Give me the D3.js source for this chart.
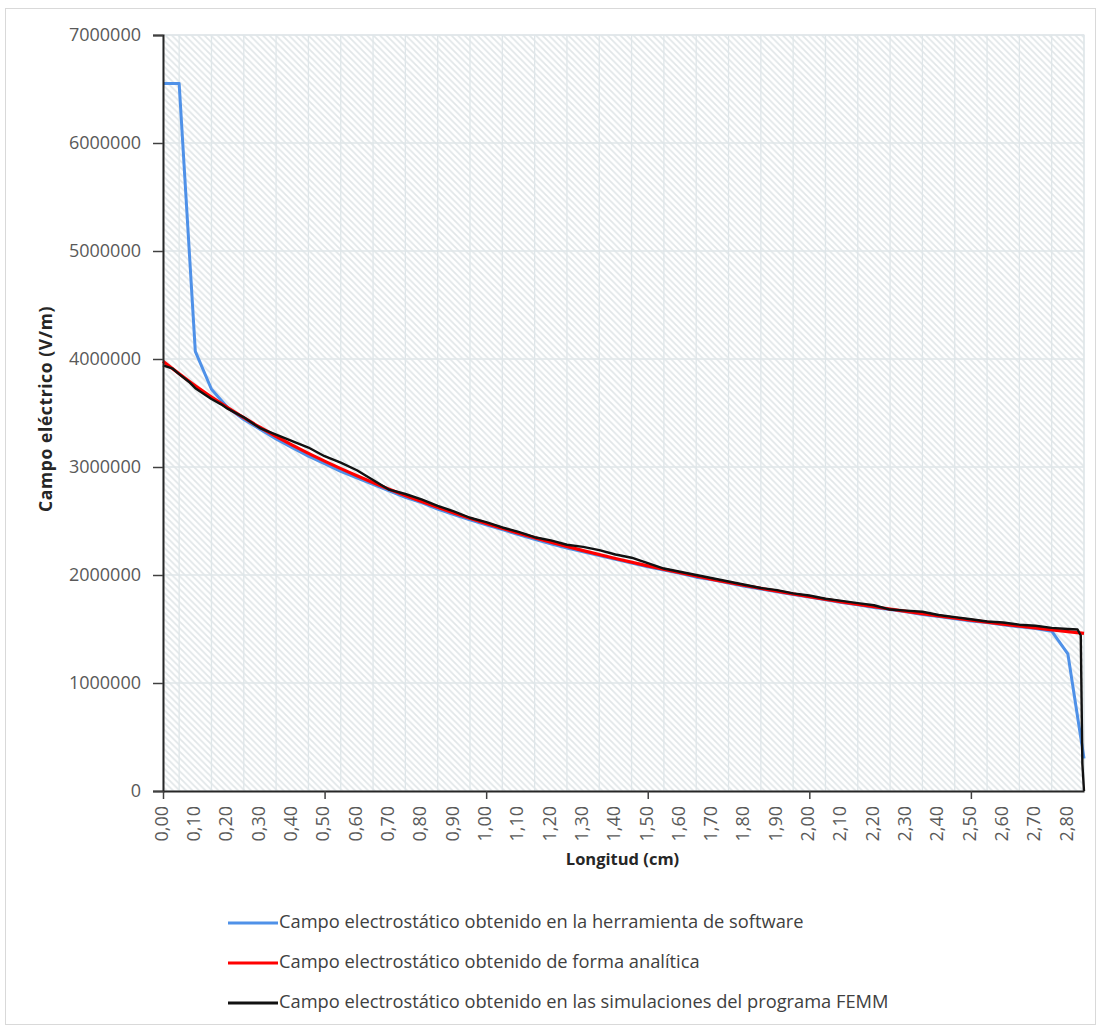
<!DOCTYPE html>
<html>
<head>
<meta charset="utf-8">
<script src="https://cdn.jsdelivr.net/npm/d3@7"></script>
<style>
  body { margin: 0; background: #fff; }
  svg { display: block; }
  text { font-family: "Open Sans", "Noto Sans", sans-serif; }
</style>
</head>
<body>
<svg id="chart" width="1099" height="1028"></svg>
<script>
// Longitud (cm) and campo eléctrico (V/m) for the three series

// Herramienta de software, sampled every 0.05 cm
const softwareX = [0.00,0.05,0.10,0.15,0.20,0.25,0.30,0.35,0.40,0.45,0.50,0.55,0.60,0.65,0.70,0.75,0.80,0.85,0.90,0.95,
  1.00,1.05,1.10,1.15,1.20,1.25,1.30,1.35,1.40,1.45,1.50,1.55,1.60,1.65,1.70,1.75,1.80,1.85,1.90,1.95,
  2.00,2.05,2.10,2.15,2.20,2.25,2.30,2.35,2.40,2.45,2.50,2.55,2.60,2.65,2.70,2.75,2.80,2.85];
const softwareE = [6550000,6550000,4070000,3720000,3550000,3440000,3350000,3260000,3180000,3100000,3030000,2960000,2900000,2840000,2780000,2720000,2670000,2610000,2560000,2510000,
  2465000,2420000,2375000,2330000,2290000,2250000,2215000,2180000,2145000,2110000,2075000,2045000,2015000,1980000,1955000,1925000,1895000,1870000,1845000,1820000,
  1795000,1770000,1745000,1725000,1700000,1680000,1660000,1635000,1615000,1595000,1575000,1560000,1540000,1520000,1505000,1480000,1270000,300000];

// Forma analítica
const analyticX = [0.00,0.10,0.20,0.30,0.40,0.50,0.60,0.70,0.80,0.90,1.00,1.10,1.20,1.30,1.40,1.50,1.60,1.70,1.80,1.90,
  2.00,2.10,2.20,2.30,2.40,2.50,2.60,2.70,2.80,2.85];
const analyticE = [3980000,3753000,3550000,3368000,3203000,3054000,2919000,2794000,2680000,2575000,2478000,2388000,2304000,2226000,2153000,2085000,2021000,1960000,1903000,1850000,
  1799000,1751000,1706000,1663000,1621000,1582000,1545000,1510000,1476000,1459000];

// Simulaciones FEMM
const femmX = [0.00,0.03,0.05,0.08,0.10,0.13,0.15,0.18,0.20,0.25,0.30,0.35,0.40,0.45,0.50,0.55,0.60,0.65,0.70,0.75,0.80,0.85,0.90,0.95,
  1.00,1.05,1.10,1.15,1.20,1.25,1.30,1.35,1.40,1.45,1.50,1.55,1.60,1.65,1.70,1.75,1.80,1.85,1.90,1.95,
  2.00,2.05,2.10,2.15,2.20,2.25,2.30,2.35,2.40,2.45,2.50,2.55,2.60,2.65,2.70,2.75,2.80,2.83,2.84,2.845,2.85];
const femmE = [3940000,3910000,3860000,3790000,3730000,3670000,3630000,3580000,3540000,3460000,3360000,3300000,3240000,3180000,3100000,3040000,2970000,2880000,2790000,2750000,2700000,2640000,2590000,2530000,
  2490000,2440000,2400000,2350000,2320000,2280000,2260000,2230000,2190000,2160000,2110000,2060000,2030000,2000000,1970000,1940000,1910000,1880000,1860000,1830000,
  1810000,1780000,1760000,1740000,1720000,1680000,1670000,1660000,1630000,1610000,1590000,1570000,1560000,1540000,1530000,1510000,1500000,1495000,1440000,250000,0];

const yTickValues = [0,1000000,2000000,3000000,4000000,5000000,6000000,7000000];
const yTickLabels = ["0","1000000","2000000","3000000","4000000","5000000","6000000","7000000"];
const xTickValues = [0.0,0.1,0.2,0.3,0.4,0.5,0.6,0.7,0.8,0.9,1.0,1.1,1.2,1.3,1.4,1.5,1.6,1.7,1.8,1.9,2.0,2.1,2.2,2.3,2.4,2.5,2.6,2.7,2.8];
const xTickLabels = ["0,00","0,10","0,20","0,30","0,40","0,50","0,60","0,70","0,80","0,90","1,00","1,10","1,20","1,30","1,40","1,50","1,60","1,70","1,80","1,90","2,00","2,10","2,20","2,30","2,40","2,50","2,60","2,70","2,80"];
const xMajorTicks = [0.0,0.5,1.0,1.5,2.0,2.5];
const xGridValues = [0.05,0.15,0.25,0.35,0.45,0.55,0.65,0.75,0.85,0.95,1.05,1.15,1.25,1.35,1.45,1.55,1.65,1.75,1.85,1.95,2.05,2.15,2.25,2.35,2.45,2.55,2.65,2.75,2.85];

const seriesNames = [
  "Campo electrostático obtenido en la herramienta de software",
  "Campo electrostático obtenido de forma analítica",
  "Campo electrostático obtenido en las simulaciones del programa FEMM"
];
const seriesColors = ["#4f91e8", "#ff0000", "#111111"];

const svg = d3.select("#chart");
const W = 1099, H = 1028;
const plot = { left: 163, right: 1084, top: 35, bottom: 791 };

// chart area frame
svg.append("rect").attr("x", 5.5).attr("y", 8.5).attr("width", W - 9).attr("height", H - 12)
  .attr("fill", "#fff").attr("stroke", "#d9d9d9").attr("stroke-width", 1);

const x = d3.scaleLinear().domain([0, 2.85]).range([plot.left, plot.right]);
const y = d3.scaleLinear().domain([0, 7000000]).range([plot.bottom, plot.top]);

// hatched plot background
const defs = svg.append("defs");
const pat = defs.append("pattern").attr("id", "hatch").attr("patternUnits", "userSpaceOnUse")
  .attr("width", 6.5).attr("height", 6.5);
pat.append("rect").attr("width", 6.5).attr("height", 6.5).attr("fill", "#ffffff");
pat.append("path").attr("d", "M0,0 L6.5,6.5 M-1,5.5 L1,7.5 M5.5,-1 L7.5,1")
  .attr("stroke", "#e1e6e8").attr("stroke-width", 1.7);

svg.append("rect").attr("x", plot.left).attr("y", plot.top)
  .attr("width", plot.right - plot.left).attr("height", plot.bottom - plot.top)
  .attr("fill", "url(#hatch)").attr("stroke", "#e2e7ea").attr("stroke-width", 1.2);

// gridlines
const grid = svg.append("g").attr("stroke", "#dfe6e9").attr("stroke-width", 1.3);
grid.selectAll("line.v").data(xGridValues).join("line").attr("class", "v")
  .attr("x1", d => x(d)).attr("x2", d => x(d)).attr("y1", plot.top).attr("y2", plot.bottom);
grid.selectAll("line.h").data(yTickValues.slice(1)).join("line").attr("class", "h")
  .attr("x1", plot.left).attr("x2", plot.right).attr("y1", d => y(d)).attr("y2", d => y(d));

// series lines
const line = d3.line().x(d => x(d[0])).y(d => y(d[1]));
const smooth = d3.line().x(d => x(d[0])).y(d => y(d[1])).curve(d3.curveMonotoneX);

svg.append("path").datum(d3.zip(softwareX, softwareE)).attr("d", line)
  .attr("fill", "none").attr("stroke", seriesColors[0]).attr("stroke-width", 3).attr("stroke-linejoin", "round");
svg.append("path").datum(d3.zip(analyticX, analyticE)).attr("d", smooth)
  .attr("fill", "none").attr("stroke", seriesColors[1]).attr("stroke-width", 3.2).attr("stroke-linejoin", "round");
svg.append("path").datum(d3.zip(femmX, femmE)).attr("d", line)
  .attr("fill", "none").attr("stroke", seriesColors[2]).attr("stroke-width", 2.4).attr("stroke-linejoin", "round");

// y axis
const yAxis = d3.axisLeft(y).tickValues(yTickValues).tickFormat((d, i) => yTickLabels[i]).tickSize(10).tickPadding(12);
const gy = svg.append("g").attr("transform", `translate(${plot.left},0)`).call(yAxis);
gy.select(".domain").attr("stroke", "#262626").attr("stroke-width", 2);
gy.selectAll(".tick line").attr("stroke", "#404040").attr("stroke-width", 1.5);
gy.selectAll(".tick text").attr("fill", "#595959").attr("font-size", 18)
  .attr("font-family", "'Open Sans', sans-serif");

// x axis (baseline + major ticks)
const xAxis = d3.axisBottom(x).tickValues(xMajorTicks).tickFormat("").tickSize(8).tickSizeOuter(0);
const gx = svg.append("g").attr("transform", `translate(0,${plot.bottom})`).call(xAxis);
gx.select(".domain").attr("stroke", "#262626").attr("stroke-width", 2);
gx.selectAll(".tick line").attr("stroke", "#404040").attr("stroke-width", 1.5);

// rotated category labels
svg.append("g").selectAll("text").data(xTickValues).join("text")
  .attr("transform", d => `translate(${x(d)},806) rotate(-90)`)
  .attr("text-anchor", "end").attr("dominant-baseline", "middle")
  .attr("font-size", 18).attr("fill", "#595959")
  .text((d, i) => xTickLabels[i]);

// axis titles
svg.append("text").attr("x", (plot.left + plot.right) / 2 - 1).attr("y", 861)
  .attr("text-anchor", "middle").attr("dominant-baseline", "middle")
  .attr("font-size", 16.5).attr("font-weight", "bold").attr("fill", "#262626")
  .text("Longitud (cm)");
svg.append("text").attr("transform", "translate(47,409) rotate(-90)")
  .attr("text-anchor", "middle").attr("dominant-baseline", "middle")
  .attr("font-size", 17.5).attr("font-weight", "bold").attr("fill", "#262626")
  .attr("letter-spacing", 0.6)
  .text("Campo eléctrico (V/m)");

// legend
const legendY = [923, 963, 1003];
const lg = svg.append("g");
seriesNames.forEach((name, i) => {
  lg.append("line").attr("x1", 228).attr("x2", 278).attr("y1", legendY[i]).attr("y2", legendY[i])
    .attr("stroke", seriesColors[i]).attr("stroke-width", 3);
  lg.append("text").attr("x", 279).attr("y", legendY[i]).attr("dominant-baseline", "middle")
    .attr("font-size", 18.3).attr("fill", "#404040").text(name);
});
</script>
</body>
</html>
